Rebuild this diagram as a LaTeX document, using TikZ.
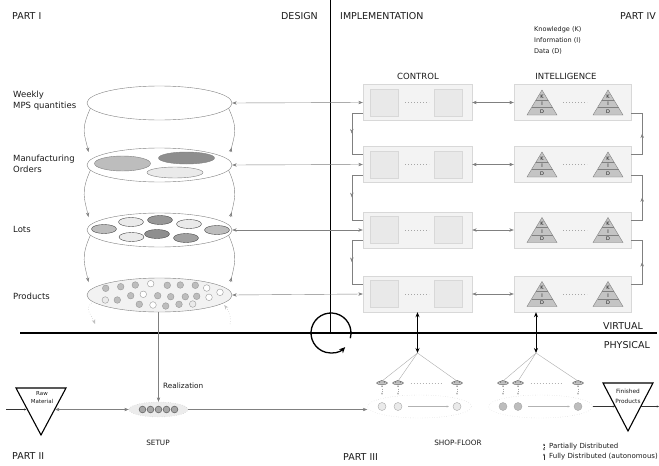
\documentclass[tikz,border=0pt]{standalone}
\usepackage{fontspec}
\setmainfont{DejaVu Sans}
\usetikzlibrary{shapes.geometric,arrows.meta,decorations.markings}

\definecolor{edgegray}{HTML}{808080}
\definecolor{boxfill}{HTML}{F3F3F3}
\definecolor{boxedge}{HTML}{D8D8D8}
\definecolor{sqfill}{HTML}{E9E9E9}
\definecolor{pyrfill}{HTML}{C4C4C4}
\definecolor{lightc}{HTML}{EAEAEA}
\definecolor{midc}{HTML}{BDBDBD}
\definecolor{darkc}{HTML}{8E8E8E}
\definecolor{prodfill}{HTML}{F2F2F2}
\definecolor{txt}{HTML}{1A1A1A}

\tikzset{
  gtip/.tip={Stealth[length=4.5pt,width=3.4pt]},
  stip/.tip={Stealth[length=2.2pt,width=2pt]},
  hdr/.style={font=\fontsize{9.5}{11}\selectfont, text=txt, inner sep=0pt},
  lbl/.style={font=\fontsize{8.5}{11}\selectfont, text=txt, align=left, inner sep=0pt},
  smalltxt/.style={font=\fontsize{7.3}{9}\selectfont, text=txt, inner sep=0pt},
  keytxt/.style={font=\fontsize{6.5}{11}\selectfont, text=txt, align=left, inner sep=0pt},
  tinytxt/.style={font=\fontsize{5.5}{8}\selectfont, text=txt, align=center, inner sep=0pt},
  level/.style={ellipse, draw=edgegray, fill=white, minimum width=145pt, minimum height=34pt, inner sep=0pt},
  ctrlbox/.style={draw=boxedge, fill=boxfill, minimum width=109pt, minimum height=36pt, inner sep=0pt},
  intelbox/.style={ctrlbox, minimum width=117pt},
  sq/.style={draw=boxedge, fill=sqfill, minimum width=28pt, minimum height=27pt, inner sep=0pt},
  harrow/.style={draw=edgegray, gtip-gtip},
  glink/.style={draw=edgegray},
  midarrow/.style={postaction={decorate}, decoration={markings, mark=at position #1 with {\arrow{gtip}}}},
  faint/.style={draw=gray!50, dotted, line width=0.5pt},
  hubarrow/.style={draw=black, line width=0.8pt, {Stealth[length=5pt,width=4pt]}-{Stealth[length=5pt,width=4pt]}},
  fan/.style={draw=gray!65, line width=0.4pt},
  sensor/.style={ellipse, draw=gray!70!black, fill=gray!45, minimum width=11pt, minimum height=3.5pt, inner sep=0pt},
  shopell/.style={ellipse, draw=gray!45, dotted, minimum width=104pt, minimum height=23pt, inner sep=0pt},
  dot/.style={circle, draw=gray!70, minimum size=8pt, inner sep=0pt},
  setupell/.style={ellipse, draw=gray!50, dotted, fill=gray!15, minimum width=59pt, minimum height=15pt, inner sep=0pt},
  store/.style={draw=black, line width=1.1pt, fill=white, line join=miter},
}

\begin{document}
\begin{tikzpicture}[x=1pt,y=-1pt]
\useasboundingbox (0,0) rectangle (659,466);

% frame lines
\draw[line width=0.9pt] (330,0) -- (330,333);
\draw[line width=1.1pt] (20,333) -- (657,333);
\draw[line width=1.3pt, -{Stealth[length=6pt,width=5.5pt]}] (331,333) ++(-15:20pt) arc[start angle=-15, end angle=315, radius=20pt];

% headings
\node[hdr, anchor=west] (part1) at (12,16) {PART I};
\node[hdr, anchor=east] (design) at (318,16) {DESIGN};
\node[hdr, anchor=west] (impl) at (340,16) {IMPLEMENTATION};
\node[hdr, anchor=east] (part4) at (656,16) {PART IV};
\node[keytxt, anchor=west] (kid) at (534,40) {Knowledge (K)\\Information (I)\\Data (D)};
\node[lbl] (ctrl) at (418,76) {CONTROL};
\node[lbl] (intel) at (566,76) {INTELLIGENCE};
\node[hdr, anchor=east] (virt) at (643,326) {VIRTUAL};
\node[hdr, anchor=east] (phys) at (650,345) {PHYSICAL};
\node[hdr, anchor=west] (part2) at (12,456) {PART II};
\node[hdr, anchor=west] (part3) at (343,457) {PART III};

% left labels
\node[lbl, anchor=west] (wk) at (13,100.5) {Weekly\\MPS quantities};
\node[lbl, anchor=west] (mfo) at (13,163.5) {Manufacturing\\Orders};
\node[lbl, anchor=west] (lt) at (13,229) {Lots};
\node[lbl, anchor=west] (pr) at (13,296) {Products};

% aggregation levels (links first, ellipses on top)
\coordinate (mps0) at (159.5,103);
\coordinate (mo0) at (159.5,165);
\coordinate (lots0) at (159.5,230);
\coordinate (prod0) at (159.5,295);
\foreach \u/\v in {mps/mo, mo/lots, lots/prod}{
  \draw[glink, -gtip] ([shift={(-69,5)}]\u0) .. controls +(-10,22) and +(-4,-18) .. ([shift={(-71,-13)}]\v0);
  \draw[glink, midarrow=0.1] ([shift={(71,-13)}]\v0) .. controls +(4,-18) and +(10,22) .. ([shift={(69,5)}]\u0);
}
\node[level] (mps) at (mps0) {};
\node[level] (mo) at (mo0) {};
\node[level] (lots) at (lots0) {};
\node[level, fill=prodfill] (prod) at (prod0) {};
\coordinate (fbl) at (95,324);
\coordinate (fbr) at (230,324);
\draw[faint, -gtip] ([shift={(5,8)}]prod.west) .. controls +(-8,6) and +(-3,-8) .. (fbl);
\draw[faint, -gtip] (fbr) .. controls +(2,-8) and +(4,5) .. ([shift={(-8,10)}]prod.east);

% orders
\filldraw[draw=edgegray, fill=lightc] (175,172.5) ellipse [x radius=28, y radius=5.5];
\filldraw[draw=edgegray, fill=midc] (122.5,163.5) ellipse [x radius=28, y radius=7.5];
\filldraw[draw=edgegray, fill=darkc] (186.5,158) ellipse [x radius=28, y radius=6];

% lots
\foreach \x/\y/\c in {104/229/midc, 131/222/lightc, 160/220/darkc!80!midc, 189/224/lightc,
    217/230/midc, 131.5/237/lightc, 157/234/darkc, 186/238/darkc!60!midc}
  \filldraw[draw=black!70, fill=\c] (\x,\y) ellipse [x radius=12.5, y radius=4.5];

% products
\foreach \x/\y/\c in {105.7/288.3/midc, 120.7/286.7/midc, 135.3/285/midc, 150.7/283.7/white,
    167.3/285.3/midc, 180.3/285/midc, 195.3/285.3/midc, 206.7/288/white, 220/292.3/white,
    105.3/300/lightc, 117.3/300/midc, 130.7/295.7/midc, 143.3/294.3/white, 157.7/295.7/midc,
    170.7/296.7/midc, 185.3/296.7/midc, 196.7/296.3/midc, 209/297.3/white,
    139.3/304.3/midc, 153/305/white, 165.7/306/midc, 179/304.3/midc, 192.7/304/lightc}
  \filldraw[draw=gray!80, fill=\c] (\x,\y) circle [radius=3.3];

% control and intelligence
\foreach \r/\y in {1/102.5, 2/164.5, 3/230, 4/294}{
  \node[ctrlbox] (c\r) at (417.5,\y) {};
  \node[intelbox] (i\r) at (572.5,\y) {};
  \node[sq] (sqa\r) at (384,\y) {};
  \node[sq] (sqb\r) at (448,\y) {};
  \draw[gray!70, dash pattern=on 0.6pt off 2.4pt] (405,\y) -- (429,\y);
  \draw[gray!70, dash pattern=on 0.6pt off 2.4pt] (563,\y) -- (587,\y);
  \foreach \px in {542,608}{
    \filldraw[draw=edgegray, fill=pyrfill] (\px,\y-12.5) -- (\px+15,\y+12.5) -- (\px-15,\y+12.5) -- cycle;
    \draw[edgegray] (\px-6,\y-2.5) -- (\px+6,\y-2.5);
    \draw[edgegray] (\px-10.5,\y+5) -- (\px+10.5,\y+5);
    \node[tinytxt, font=\fontsize{5}{6}\selectfont] at (\px,\y-6) {K};
    \node[tinytxt, font=\fontsize{5}{6}\selectfont] at (\px,\y+1.3) {I};
    \node[tinytxt, font=\fontsize{5}{6}\selectfont] at (\px,\y+8.8) {D};
  }
}

\foreach \u/\r in {mps/1, mo/2, lots/3, prod/4}{
  \draw[harrow] (\u.east) -- (c\r.west);
  \draw[harrow] (c\r.east) -- (i\r.west);
}
\foreach \r/\q in {1/2, 2/3, 3/4}{
  \draw[glink, midarrow=0.5] ([yshift=8pt]c\r.south west) -- ++(-11,0) |- ([yshift=-8pt]c\q.north west);
  \draw[glink, midarrow=0.5] ([yshift=-8pt]i\q.north east) -- ++(11,0) |- ([yshift=8pt]i\r.south east);
}

% shop-floor
\coordinate (hub1) at (417.5,353);
\coordinate (hub2) at (536,353);
\draw[hubarrow] (c4.south) -- (hub1);
\draw[hubarrow] (hub2 |- i4.south) -- (hub2);

\node[shopell] (shop1) at (419.5,406.5) {};
\node[shopell] (shop2) at (540.5,406.5) {};
\foreach \k/\x in {1/382, 2/398, 3/457}{
  \node[sensor] (sa\k) at (\x,383) {};
  \node[dot, fill=lightc] (pa\k) at (\x,406.5) {};
}
\foreach \k/\x in {1/503, 2/518, 3/578}{
  \node[sensor] (sb\k) at (\x,383) {};
  \node[dot, fill=midc] (pb\k) at (\x,406.5) {};
}
\foreach \s in {sa1,sa2,sa3,sb1,sb2,sb3}
  \filldraw[draw=gray!70!black, fill=gray!55] ([xshift=-3pt]\s.center) arc[start angle=180, end angle=0, x radius=3pt, y radius=2.6pt];
\foreach \k in {1,2,3}{
  \draw[fan] (hub1) -- (sa\k.north);
  \draw[fan] (hub2) -- (sb\k.north);
  \draw[gray!70, dotted, stip-stip] (sa\k.south) -- (sa\k.south |- shop1.north);
  \draw[gray!70, dotted, stip-stip] (sb\k.south) -- (sb\k.south |- shop2.north);
}
\draw[gray!60, dash pattern=on 0.6pt off 2.4pt] ([xshift=7pt]sa2.east) -- ([xshift=-10pt]sa3.west);
\draw[gray!60, dash pattern=on 0.6pt off 2.4pt] ([xshift=7pt]sb2.east) -- ([xshift=-10pt]sb3.west);
\draw[gray!60, line width=0.3pt, -stip] ([xshift=6pt]pa2.east) -- ([xshift=-4pt]pa3.west);
\draw[gray!60, line width=0.3pt, -stip] ([xshift=6pt]pb2.east) -- ([xshift=-4pt]pb3.west);

% setup and stores
\node[setupell] (setup) at (158.5,409.5) {};
\foreach \x in {-16,-8,0,8,16}
  \filldraw[draw=black!70, fill=gray!70] (158.5+\x,409.5) circle [radius=3.4];
\draw[store] (16,388) -- (66,388) -- (41,435) -- cycle;
\draw[store] (603,383) -- (653,383) -- (628,431) -- cycle;
\node[tinytxt] (rawtxt) at (42,398) {Raw\\Material};
\node[tinytxt, font=\fontsize{5.8}{10}\selectfont] (fintxt) at (628,396) {Finished\\Products};
\coordinate (rawL) at (26.5,409.5);
\coordinate (rawR) at (55,409.5);
\coordinate (finL) at (615,406.5);
\coordinate (finR) at (641,406.5);

\coordinate (rawin) at (6,409.5);
\coordinate (finout) at (659,406.5);
\draw[black!80, line width=0.4pt, -stip] (rawin) -- (rawL);
\draw[harrow] (rawR) -- (setup.west);
\draw[glink, -gtip] (setup.north |- prod.south) -- (setup.north);
\draw[glink, -gtip] (setup.east) -- (setup.east -| shop1.west);
\draw[black!80, line width=0.4pt, -stip] (shop2.east) -- (finL);
\draw[black!80, line width=0.4pt, -stip] (finR) -- (finout);

\node[smalltxt, anchor=west] (real) at (163,386) {Realization};
\node[smalltxt] (setuplbl) at (158,443) {SETUP};
\node[smalltxt] (shoplbl) at (458,443) {SHOP-FLOOR};

% legend
\coordinate (lg1) at (544,443.5);
\coordinate (lg2) at (544,450.5);
\coordinate (lg3) at (544,460);
\coordinate (lg4) at (544,453.5);
\draw[black!80, dotted, line width=0.4pt, stip-stip] (lg1) -- (lg2);
\draw[black!80, line width=0.4pt, -stip] (lg3) -- (lg4);
\node[smalltxt, font=\fontsize{7}{8}\selectfont, anchor=west] (pd) at (549,447) {Partially Distributed};
\node[smalltxt, font=\fontsize{7}{8}\selectfont, anchor=west] (fd) at (549,457) {Fully Distributed (autonomous)};
\end{tikzpicture}
\end{document}
